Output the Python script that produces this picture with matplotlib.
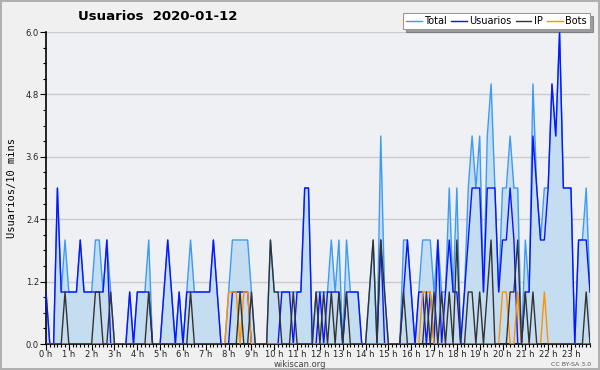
import matplotlib
matplotlib.use('Agg')
import matplotlib.pyplot as plt
import matplotlib.ticker as tick
import numpy as np

# one value every 10 minutes, 144 slots for the day
total = [1, 0, 0, 3, 1, 2, 1, 1, 1, 2,
         1, 1, 1, 2, 2, 1, 2, 1, 0, 0,
         0, 0, 1, 0, 1, 1, 1, 2, 0, 0,
         0, 1, 2, 1, 0, 1, 0, 1, 2, 1,
         1, 1, 1, 1, 2, 1, 0, 0, 1, 2,
         2, 2, 2, 2, 1, 0, 0, 0, 0, 2,
         1, 1, 1, 1, 1, 1, 1, 1, 3, 3,
         0, 1, 1, 1, 1, 2, 1, 2, 0, 2,
         1, 1, 1, 0, 0, 1, 2, 0, 4, 1,
         0, 0, 0, 0, 2, 2, 1, 0, 1, 2,
         2, 2, 1, 2, 1, 1, 3, 1, 3, 0,
         1, 3, 4, 3, 4, 1, 4, 5, 3, 1,
         3, 3, 4, 3, 3, 0, 2, 1, 5, 3,
         2, 3, 3, 5, 4, 6, 3, 3, 3, 0,
         2, 2, 3, 1]
usuarios = [1, 0, 0, 3, 1, 1, 1, 1, 1, 2,
            1, 1, 1, 1, 1, 1, 2, 0, 0, 0,
            0, 0, 1, 0, 1, 1, 1, 1, 0, 0,
            0, 1, 2, 1, 0, 1, 0, 1, 1, 1,
            1, 1, 1, 1, 2, 1, 0, 0, 0, 1,
            1, 1, 1, 1, 0, 0, 0, 0, 0, 0,
            0, 0, 1, 1, 1, 0, 1, 1, 3, 3,
            0, 0, 1, 0, 1, 1, 1, 1, 0, 1,
            1, 1, 1, 0, 0, 0, 0, 0, 2, 0,
            0, 0, 0, 0, 1, 2, 1, 0, 1, 1,
            0, 1, 0, 2, 0, 1, 2, 1, 1, 0,
            1, 2, 3, 3, 3, 1, 3, 3, 3, 1,
            2, 2, 3, 2, 0, 0, 1, 1, 4, 3,
            2, 2, 3, 5, 4, 6, 3, 3, 3, 0,
            2, 2, 2, 1]
ip = [0, 0, 0, 0, 0, 1, 0, 0, 0, 0,
      0, 0, 0, 1, 1, 0, 0, 1, 0, 0,
      0, 0, 0, 0, 0, 0, 0, 1, 0, 0,
      0, 0, 0, 0, 0, 0, 0, 0, 1, 0,
      0, 0, 0, 0, 0, 0, 0, 0, 0, 0,
      0, 1, 0, 0, 1, 0, 0, 0, 0, 2,
      1, 1, 0, 0, 0, 1, 0, 0, 0, 0,
      0, 1, 0, 1, 0, 1, 0, 1, 0, 1,
      0, 0, 0, 0, 0, 1, 2, 0, 2, 1,
      0, 0, 0, 0, 1, 0, 0, 0, 0, 0,
      1, 0, 1, 0, 1, 0, 1, 0, 2, 0,
      0, 1, 1, 0, 1, 0, 1, 2, 0, 0,
      0, 0, 1, 1, 2, 0, 1, 0, 1, 0,
      0, 0, 0, 0, 0, 0, 0, 0, 0, 0,
      0, 0, 1, 0]
bots = [0, 0, 0, 0, 0, 0, 0, 0, 0, 0,
        0, 0, 0, 0, 0, 0, 0, 0, 0, 0,
        0, 0, 0, 0, 0, 0, 0, 0, 0, 0,
        0, 0, 0, 0, 0, 0, 0, 0, 0, 0,
        0, 0, 0, 0, 0, 0, 0, 0, 1, 1,
        1, 0, 1, 1, 0, 0, 0, 0, 0, 0,
        0, 0, 0, 0, 0, 0, 0, 0, 0, 0,
        0, 0, 0, 0, 0, 0, 0, 0, 0, 0,
        0, 0, 0, 0, 0, 0, 0, 0, 0, 0,
        0, 0, 0, 0, 0, 0, 0, 0, 0, 1,
        1, 1, 0, 0, 0, 0, 0, 0, 0, 0,
        0, 0, 0, 0, 0, 0, 0, 0, 0, 0,
        1, 1, 0, 0, 1, 0, 0, 0, 0, 0,
        0, 1, 0, 0, 0, 0, 0, 0, 0, 0,
        0, 0, 0, 0]
hour_labels = [f"{h} h" for h in range(24)]


def main():
    px = 1 / 100
    fig = plt.figure(figsize=(600 * px, 370 * px), dpi=100,
                     facecolor='#f0f0f0', edgecolor='#b0b0b0', linewidth=1.5)
    ax = fig.add_axes([46 / 600, 26 / 370, 544 / 600, 312 / 370])
    ax.set_facecolor('#eef0f3')

    x = np.arange(len(total))

    ax.fill_between(x, total, 0, color='#c5ddf1', linewidth=0, zorder=1)
    ax.plot(x, total, color='#3d9bf5', lw=1.0, label='Total', zorder=2)
    ax.plot(x, usuarios, color='#0a14ff', lw=1.0, label='Usuarios', zorder=3)
    ax.plot(x, ip, color='#333333', lw=1.0, label='IP', zorder=4)
    ax.plot(x, bots, color='#ff9200', lw=1.0, label='Bots', zorder=3.5)

    ax.set_xlim(0, 143)
    ax.set_ylim(0, 6)

    ax.set_xticks(np.arange(0, 144, 6))
    ax.set_xticklabels(hour_labels)
    ax.xaxis.set_minor_locator(tick.MultipleLocator(1))
    ax.set_yticks([0, 1.2, 2.4, 3.6, 4.8, 6.0])
    ax.yaxis.set_major_formatter(tick.FormatStrFormatter('%.1f'))
    ax.yaxis.set_minor_locator(tick.MultipleLocator(0.3))

    ax.tick_params(axis='both', which='major', labelsize=6, length=4,
                   width=0.8, pad=1, colors='#000000', labelcolor='#222222')
    ax.tick_params(axis='x', which='major', pad=0.5)
    ax.tick_params(axis='both', which='minor', length=2.5, width=0.8)
    ax.grid(axis='y', color='#cccccc', lw=1.0, zorder=0)
    ax.set_axisbelow(True)

    for s in ['top', 'right']:
        ax.spines[s].set_visible(False)
    ax.spines['left'].set_linewidth(1.2)
    ax.spines['bottom'].set_linewidth(1.2)

    ax.set_ylabel('Usuarios/10 mins', family='DejaVu Sans Mono', fontsize=7.5,
                  labelpad=6)

    fig.text(78 / 600, 1 - 17 / 370, 'Usuarios  2020-01-12', fontsize=9.5,
             fontweight='bold', va='center', ha='left')

    leg = ax.legend(loc='upper right', bbox_to_anchor=(1.0, 1.06), ncol=4,
                    fontsize=7, frameon=True, fancybox=False, shadow=True,
                    handlelength=1.6, handletextpad=0.3, columnspacing=0.4,
                    borderpad=0.3, borderaxespad=0)
    leg.get_frame().set_edgecolor('#999999')
    leg.get_frame().set_facecolor('white')
    leg.get_frame().set_linewidth(0.8)

    fig.text(0.5, 1 - 364.5 / 370, 'wikiscan.org', fontsize=6, color='#444444',
             ha='center', va='center')
    fig.text(0.985, 1 - 364.5 / 370, 'CC BY-SA 3.0', fontsize=4.5, color='#555555',
             ha='right', va='center')

    fig.savefig('out.png', dpi=100, facecolor=fig.get_facecolor(),
                edgecolor=fig.get_edgecolor())


if __name__ == '__main__':
    main()
